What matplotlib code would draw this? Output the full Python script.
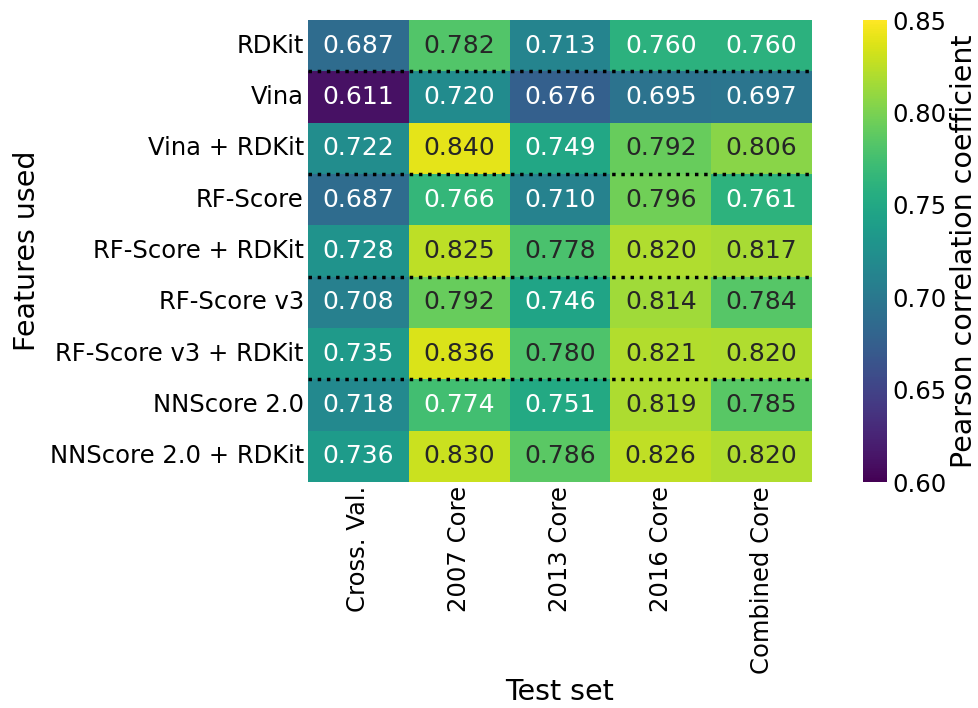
import numpy as np
import pandas as pd
import matplotlib
matplotlib.use('Agg')
import matplotlib.pyplot as plt
import seaborn as sns

features = ['RDKit', 'Vina', 'Vina + RDKit', 'RF-Score', 'RF-Score + RDKit',
            'RF-Score v3', 'RF-Score v3 + RDKit', 'NNScore 2.0', 'NNScore 2.0 + RDKit']
test_sets = ['Cross. Val.', '2007 Core', '2013 Core', '2016 Core', 'Combined Core']

cross_val = [0.687, 0.611, 0.722, 0.687, 0.728, 0.708, 0.735, 0.718, 0.736]
core_2007 = [0.782, 0.720, 0.840, 0.766, 0.825, 0.792, 0.836, 0.774, 0.830]
core_2013 = [0.713, 0.676, 0.749, 0.710, 0.778, 0.746, 0.780, 0.751, 0.786]
core_2016 = [0.760, 0.695, 0.792, 0.796, 0.820, 0.814, 0.821, 0.819, 0.826]
combined = [0.760, 0.697, 0.806, 0.761, 0.817, 0.784, 0.820, 0.785, 0.820]

df = pd.DataFrame(np.column_stack([cross_val, core_2007, core_2013, core_2016, combined]),
                  index=features, columns=test_sets)

fig = plt.figure(figsize=(9.79, 7.08), dpi=100)
ax = fig.add_axes([308 / 979, 1 - 482 / 708, 504 / 979, 462 / 708])
cax = fig.add_axes([863 / 979, 1 - 482 / 708, 24 / 979, 462 / 708])

sns.heatmap(df, ax=ax, cbar_ax=cax, cmap='viridis', vmin=0.60, vmax=0.85,
            annot=True, fmt='.3f', annot_kws={'fontsize': 18})

# dotted separators between feature groups
for y in [1, 3, 5, 7]:
    ax.axhline(y, color='black', linestyle=':', linewidth=2.5)

ax.tick_params(axis='both', labelsize=17.5, length=0, pad=3)
plt.setp(ax.get_xticklabels(), rotation=90)
plt.setp(ax.get_yticklabels(), rotation=0)
ax.set_xlabel('Test set', fontsize=20.5, labelpad=3)
ax.set_ylabel('Features used', fontsize=20.5, labelpad=6)

cax.tick_params(labelsize=17.5, length=0, pad=4)
cax.set_yticks([0.60, 0.65, 0.70, 0.75, 0.80, 0.85])
cax.set_ylabel('Pearson correlation coefficient', fontsize=20.5, labelpad=2)

fig.savefig('out.png', dpi=100)
